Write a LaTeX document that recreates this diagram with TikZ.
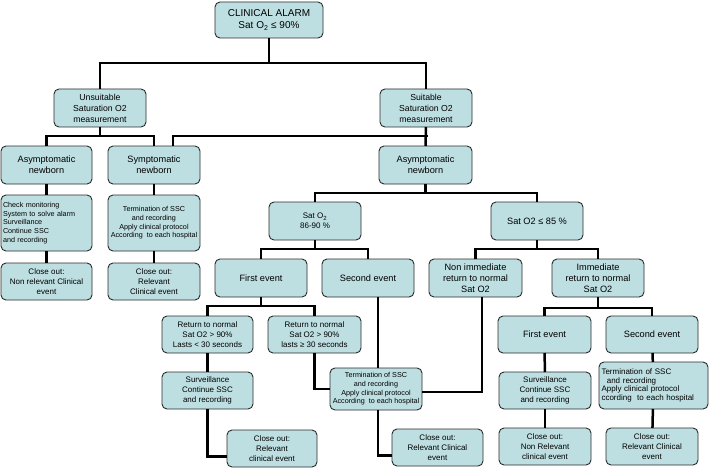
\documentclass[tikz,border=0pt]{standalone}
\usepackage{fontspec}
\setmainfont{Liberation Sans}
\definecolor{boxfill}{HTML}{BEDFE2}
\definecolor{boxline}{HTML}{2A2A2A}
\tikzset{
  box/.style={draw=boxline, fill=boxfill, rounded corners=5pt, line width=0.9pt,
    align=center, inner sep=1pt, outer sep=0pt, font=\fontsize{8}{10}\selectfont},
  fbig/.style={font=\fontsize{10}{12}\selectfont},
  fmed/.style={font=\fontsize{9.2}{11}\selectfont},
  fhead/.style={font=\fontsize{8.7}{11}\selectfont},
  fsmall/.style={font=\fontsize{7.2}{8.6}\selectfont},
  conn/.style={line width=2.5pt, black},
}
\newcommand\bx[7][]{\node[box,#1,minimum width={(#5-#3)*1pt},minimum height={(#6-#4)*1pt}] (#2) at ({(#3+#5)/2},{(#4+#6)/2}) {#7};}
\begin{document}
\begin{tikzpicture}[x=1pt,y=-1pt]
\useasboundingbox (0,0) rectangle (709,468);
% junction coordinates
\coordinate (j1) at (269,63);
\coordinate (j2) at (100,136);
\coordinate (j3) at (428,136);
\coordinate (j4) at (426,193);
\coordinate (j5) at (314,249);
\coordinate (j6) at (537,249);
\coordinate (j7) at (261,306);
\coordinate (j8) at (598,308);
% connectors first (behind boxes)
\begin{scope}[on background layer/.try]
\end{scope}
% boxes
\bx[fbig]{alarm}{215}{2}{323}{38}{CLINICAL ALARM\\Sat O\textsubscript{2} ≤ 90\%}
\bx[fhead]{unsuit}{54}{89}{146}{127}{Unsuitable\\Saturation O2\\measurement}
\bx[fhead]{suit}{380}{89}{472}{127}{Suitable\\Saturation O2\\measurement}
\bx[fmed]{asymL}{1}{146}{92}{184}{Asymptomatic\\newborn}
\bx[fmed]{sym}{108}{146}{200}{184}{Symptomatic\\newborn}
\bx[fsmall,align=left,text width=87pt]{check}{1}{195}{92}{251}{Check monitoring\\System to solve alarm\\Surveillance\\Continue SSC\\and recording}
\bx[fsmall]{termL}{108}{195}{200}{251}{Termination of SSC\\and recording\\Apply clinical protocol\\According\ \ to each hospital}
\bx{closeL}{1}{263}{92}{300}{Close out:\\Non relevant Clinical\\event}
\bx{closeS}{108}{263}{200}{300}{Close out:\\Relevant\\Clinical event}
\bx[fmed]{asymR}{379}{146}{472}{184}{Asymptomatic\\newborn}
\bx{sat86}{269}{202}{361}{240}{Sat O\textsubscript{2}\\86-90 \%}
\bx[fmed]{sat85}{491}{202}{583}{240}{Sat O2 ≤ 85 \%}
\bx[fmed]{first1}{215}{259}{307}{297}{First event}
\bx[fmed]{second1}{322}{259}{414}{297}{Second event}
\bx[fmed]{nonimm}{429}{259}{522}{297}{Non immediate\\return to normal\\Sat O2}
\bx[fmed]{imm}{552}{259}{644}{297}{Immediate\\return to normal\\Sat O2}
\bx{ret30a}{162}{316}{253}{353}{Return to normal\\Sat O2 > 90\%\\Lasts < 30 seconds}
\bx{ret30b}{268}{316}{361}{353}{Return to normal\\Sat O2 > 90\%\\lasts ≥ 30 seconds}
\bx[fmed]{first2}{498}{316}{591}{353}{First event}
\bx[fmed]{second2}{606}{316}{698}{353}{Second event}
\bx{surv1}{162}{372}{253}{409}{Surveillance\\Continue SSC\\and recording}
\bx[fsmall]{termM}{330}{368}{422}{410}{Termination of SSC\\and recording\\Apply clinical protocol\\According\ \ to each hospital}
\bx{surv2}{499}{372}{591}{409}{Surveillance\\Continue SSC\\and recording}
\bx[font=\fontsize{8}{8.8}\selectfont,align=left,text width=104pt]{termR}{599}{362}{708}{409}{Termination of SSC\\\ \ and recording\\Apply clinical protocol\\ccording\ \ to each hospital}
\bx{closeA}{227}{430}{317}{467}{Close out:\\Relevant\\clinical event}
\bx{closeB}{392}{429}{483}{466}{Close out:\\Relevant Clinical\\event}
\bx{closeN}{499}{428}{591}{465}{Close out:\\Non Relevant\\clinical event}
\bx{closeR}{606}{428}{698}{465}{Close out:\\Relevant Clinical\\event}
% connectors
\draw[conn] (alarm) -- (alarm |- j1);
\draw[conn] (unsuit) |- (j1) -| (suit);
\draw[conn] (unsuit) -- (unsuit |- j2);
\draw[conn] (asymL) |- (j2) -| (sym);
\draw[conn] (suit) -- (asymR);
\draw[conn] (j3) -| ([xshift=19pt]sym.north);
\draw[conn] (asymL) -- (check);
\draw[conn] (check) -- (closeL);
\draw[conn] (sym) -- (termL);
\draw[conn] (termL) -- (closeS);
\draw[conn] (asymR) -- (asymR |- j4);
\draw[conn] (sat86) |- (j4) -| (sat85);
\draw[conn] (sat86) -- (sat86 |- j5);
\draw[conn] (first1) |- (j5) -| (second1);
\draw[conn] (sat85) -- (sat85 |- j6);
\draw[conn] (nonimm) |- (j6) -| (imm);
\draw[conn] (first1) -- (first1 |- j7);
\draw[conn] (ret30a) |- (j7) -| (ret30b);
\draw[conn] (imm) -- (imm |- j8);
\draw[conn] (first2) |- (j8) -| (second2);
\draw[conn] (ret30a) -- (surv1);
\draw[conn] (surv1) |- ([yshift=-8pt]closeA.west);
\draw[conn] (ret30b) |- (termM);
\draw[conn] ([xshift=2pt]termM.north) -- ([xshift=2pt]termM.north |- second1.south);
\draw[conn] ([xshift=2pt]termM.south) |- ([yshift=-8pt]closeB.west);
\draw[conn] ([xshift=6.5pt]nonimm.south) |- ([yshift=-3pt]termM.east);
\draw[conn] (first2) -- (surv2);
\draw[conn] (surv2) -- (closeN);
\draw[conn] (second2) -- (termR);
\draw[conn] (termR) -- (closeR);
\end{tikzpicture}
\end{document}
